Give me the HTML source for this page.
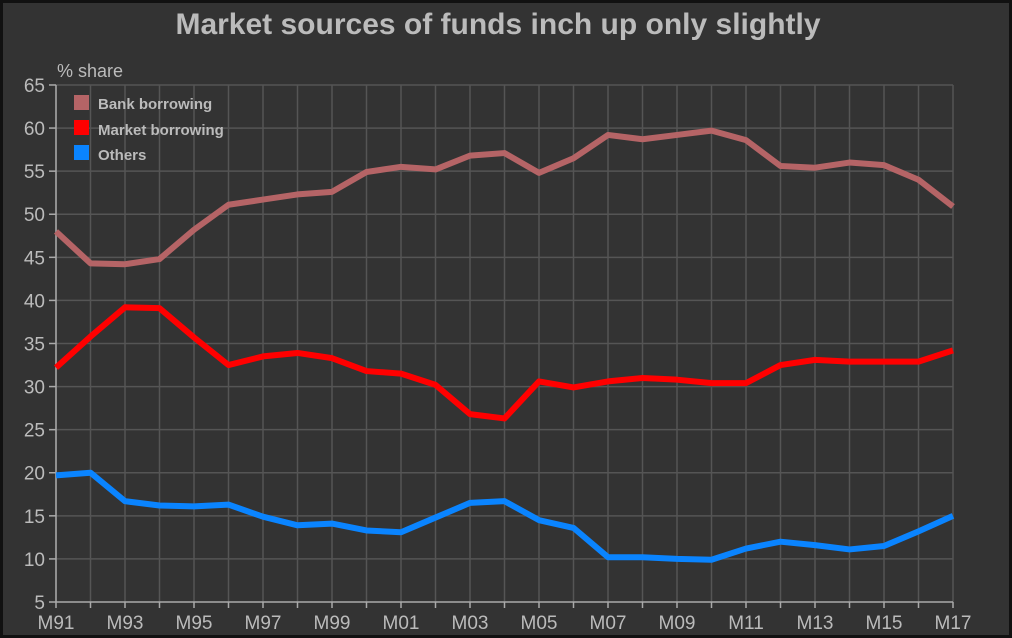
<!DOCTYPE html>
<html><head><meta charset="utf-8"><style>
html,body{margin:0;padding:0;background:#333;}
svg{display:block;font-family:"Liberation Sans",Arial,sans-serif;}
</style></head><body>
<svg id="c" width="1012" height="638" viewBox="0 0 1012 638" xmlns="http://www.w3.org/2000/svg">
<rect x="0" y="0" width="1012" height="638" fill="#333"/>
<rect x="1.5" y="1.5" width="1009" height="635" fill="none" stroke="#111" stroke-width="3"/>
<text x="498" y="34" text-anchor="middle" font-size="30" font-weight="bold" fill="#bbb">Market sources of funds inch up only slightly</text>
<text x="57" y="77" font-size="18" fill="#bbb">% share</text>
<g id="grid"></g>
<g id="series"></g>
<g font-size="15" font-weight="bold" fill="#bbb">
<rect x="74" y="95" width="15" height="15" fill="#b56466"/>
<text x="98" y="109">Bank borrowing</text>
<rect x="74" y="120" width="15" height="15" fill="#ff0000"/>
<text x="98" y="135">Market borrowing</text>
<rect x="74" y="145" width="15" height="15" fill="#0a84ff"/>
<text x="98" y="160">Others</text>
</g>
</svg>
<script>
function X(i){return 56+i*34.5;}
function Y(v){return 602-(v-5)*8.617;}
var g=document.getElementById('grid'),h='';
for(var i=0;i<27;i++){var x=X(i);h+='<line x1="'+x+'" y1="85" x2="'+x+'" y2="602" stroke="#555" stroke-width="1.5"/>';
h+='<line x1="'+x+'" y1="602" x2="'+x+'" y2="608" stroke="#aaa" stroke-width="1.5"/>';
if(i%2==0){var yr=(91+i)%100;h+='<text x="'+x+'" y="629" text-anchor="middle" font-size="19" fill="#bbb">M'+(yr<10?'0'+yr:yr)+'</text>';}}
for(var v=5;v<=65;v+=5){var y=Y(v);if(v>5)h+='<line x1="56" y1="'+y+'" x2="953" y2="'+y+'" stroke="#555" stroke-width="1.5"/>';
h+='<line x1="49" y1="'+y+'" x2="56" y2="'+y+'" stroke="#aaa" stroke-width="1.5"/>';
h+='<text x="45" y="'+(y+7)+'" text-anchor="end" font-size="19" fill="#bbb">'+v+'</text>';}
h+='<line x1="56" y1="85" x2="56" y2="602" stroke="#aaa" stroke-width="1.5"/><line x1="56" y1="602" x2="953" y2="602" stroke="#aaa" stroke-width="1.5"/>';
g.innerHTML=h;
var D=[["#b56466",[48,44.3,44.2,44.8,48.2,51.1,51.7,52.3,52.6,54.9,55.5,55.2,56.8,57.1,54.8,56.5,59.2,58.7,59.2,59.7,58.6,55.6,55.4,56,55.7,54,50.9]],
["#ff0000",[32.2,35.8,39.2,39.1,35.7,32.5,33.5,33.9,33.3,31.8,31.5,30.2,26.8,26.3,30.6,29.9,30.6,31,30.8,30.4,30.4,32.5,33.1,32.9,32.9,32.9,34.2]],
["#0a84ff",[19.7,20,16.7,16.2,16.1,16.3,14.9,13.9,14.1,13.3,13.1,14.8,16.5,16.7,14.5,13.6,10.2,10.2,10,9.9,11.2,12,11.6,11.1,11.5,13.2,15]]];
var s='';D.forEach(function(d){s+='<polyline fill="none" stroke="'+d[0]+'" stroke-width="6" stroke-linejoin="round" points="'+d[1].map(function(v,i){return X(i)+','+Y(v);}).join(' ')+'"/>';});
document.getElementById('series').innerHTML=s;
</script>
</body></html>
